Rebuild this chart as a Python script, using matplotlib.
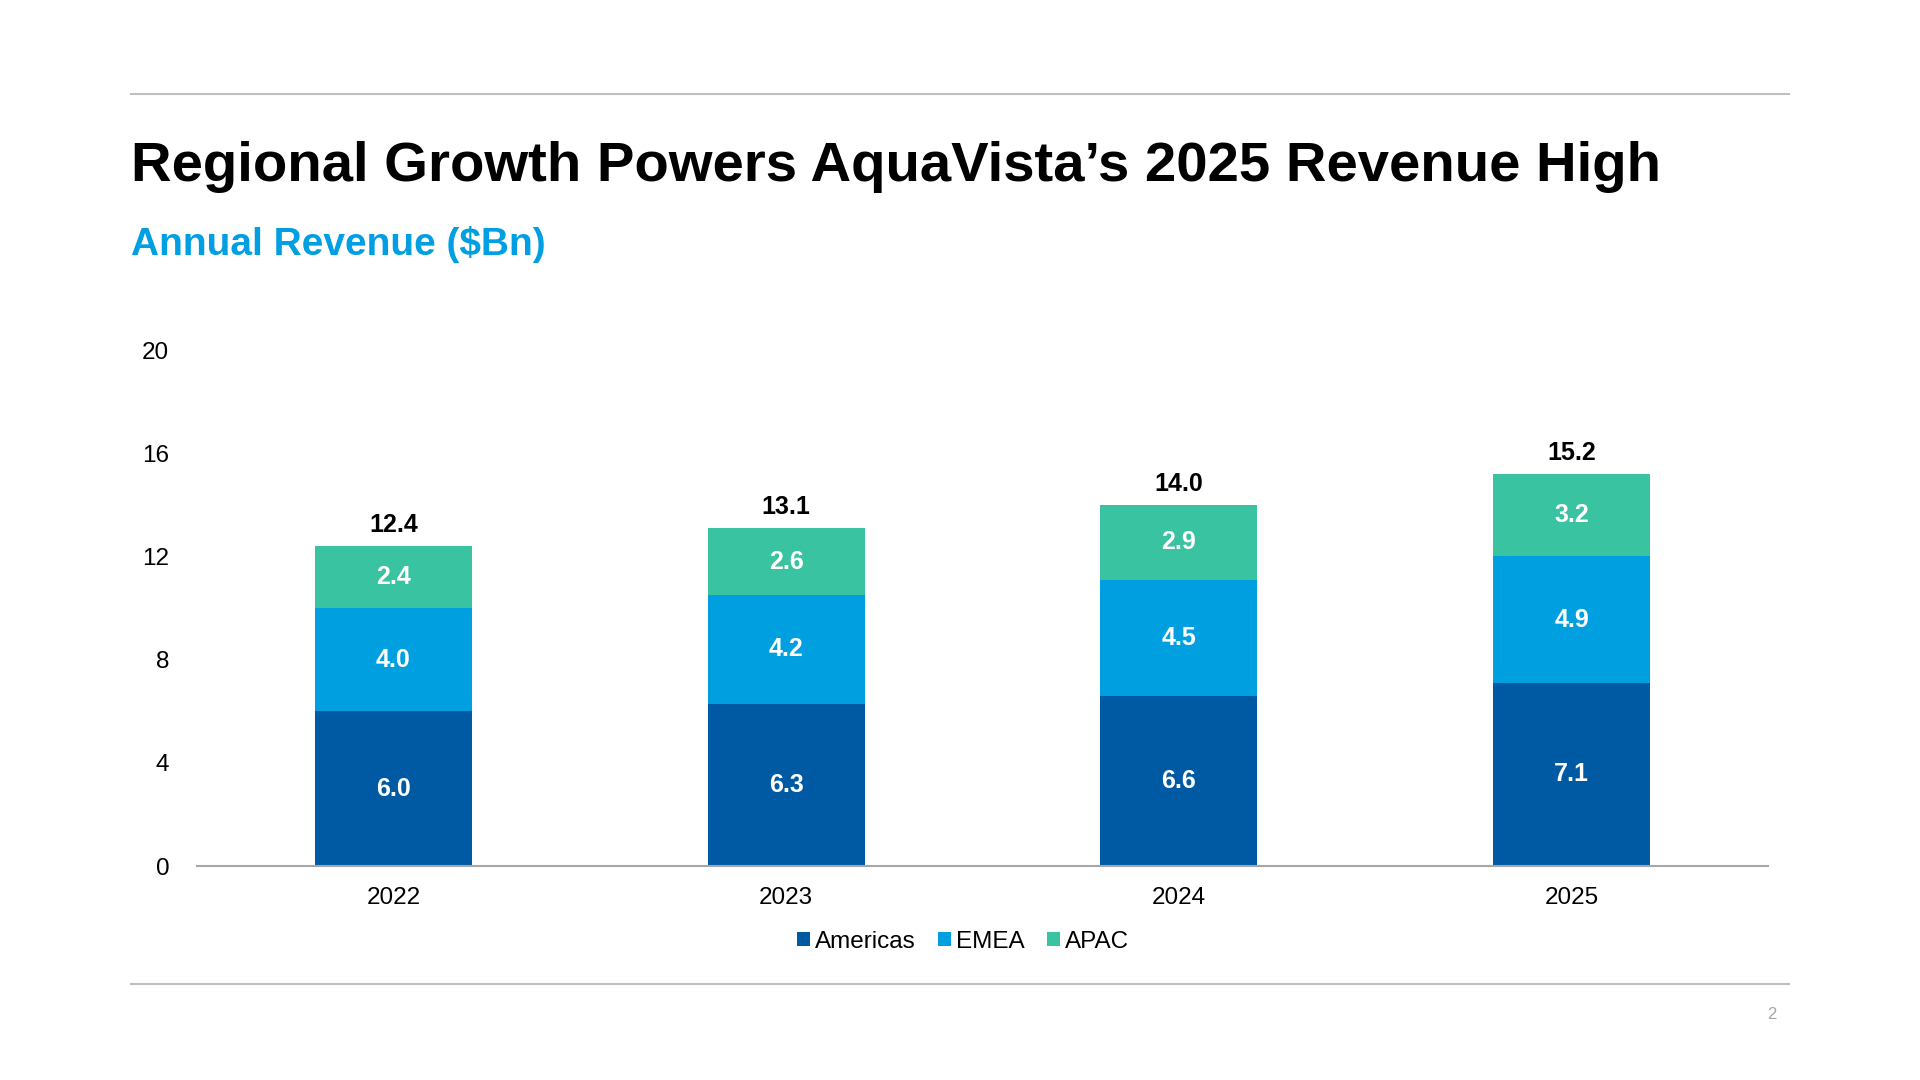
import numpy as np
import matplotlib.pyplot as plt
from matplotlib.lines import Line2D
from matplotlib.patches import Patch

plt.rcParams['font.family'] = ['Liberation Sans', 'DejaVu Sans']

# Data
years = ['2022', '2023', '2024', '2025']
americas = [6.0, 6.3, 6.6, 7.1]
emea = [4.0, 4.2, 4.5, 4.9]
apac = [2.4, 2.6, 2.9, 3.2]
totals = [12.4, 13.1, 14.0, 15.2]
regions = ['Americas', 'EMEA', 'APAC']
colors = ['#005AA3', '#00A0E0', '#3AC3A0']

fig = plt.figure(figsize=(19.2, 10.8), dpi=100)
ax = fig.add_axes([0.1026, 0.1981, 0.8182, 0.4778])

x = np.arange(len(years))
bottom = np.zeros(len(years))
for vals, col in zip([americas, emea, apac], colors):
    ax.bar(x, vals, width=0.4, bottom=bottom, color=col, zorder=2)
    for xi, b, v in zip(x, bottom, vals):
        ax.text(xi, b + v / 2, f'{v:.1f}', ha='center', va='center',
                color='white', fontsize=18, fontweight='bold')
    bottom = bottom + np.array(vals)

for xi, t, top in zip(x, totals, bottom):
    ax.annotate(f'{t:.1f}', (xi, top), xytext=(0, 15), textcoords='offset points',
                ha='center', va='center', fontsize=18, fontweight='bold', color='black')

ax.set_xlim(-0.5, 3.5)
ax.set_ylim(0, 20)
ax.set_yticks([0, 4, 8, 12, 16, 20])
ax.set_xticks(x)
ax.set_xticklabels(years)
ax.tick_params(axis='y', length=0, pad=20, labelsize=17.5)
ax.tick_params(axis='x', length=0, pad=15, labelsize=17.5)
for s in ['top', 'right', 'left']:
    ax.spines[s].set_visible(False)
ax.spines['bottom'].set_color('#A6A6A6')
ax.spines['bottom'].set_linewidth(1.5)

handles = [Patch(facecolor=c, label=r) for c, r in zip(colors, regions)]
fig.legend(handles=handles, loc='center', bbox_to_anchor=(0.5016, 0.128), ncol=3,
           frameon=False, fontsize=17.5, handlelength=0.55, handleheight=0.55,
           handletextpad=0.2, columnspacing=0.9)

# Title and subtitle
fig.text(0.0682, 0.845, 'Regional Growth Powers AquaVista\u2019s 2025 Revenue High',
         fontsize=40.5, fontweight='bold', color='black', va='center')
fig.text(0.0682, 0.774, 'Annual Revenue ($Bn)', fontsize=28, fontweight='bold',
         color='#009FE3', va='center')

# Rules and page number
fig.add_artist(Line2D([0.0682, 0.932], [0.913, 0.913], color='#BFBFBF', lw=1.5))
fig.add_artist(Line2D([0.0682, 0.932], [0.089, 0.089], color='#BFBFBF', lw=1.5))
fig.text(0.925, 0.061, '2', fontsize=12, color='#A6A6A6', ha='right', va='center')

fig.savefig('out.png', dpi=100)
